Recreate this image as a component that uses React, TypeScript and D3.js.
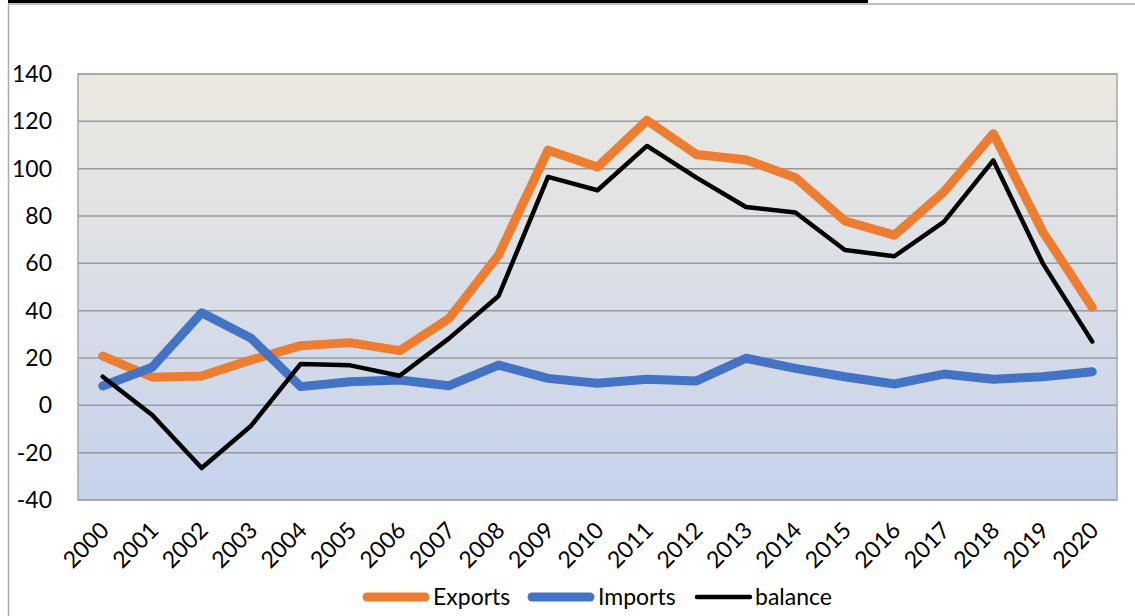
import React from "react";
import * as d3 from "d3";

const years = ["2000","2001","2002","2003","2004","2005","2006","2007","2008","2009","2010","2011","2012","2013","2014","2015","2016","2017","2018","2019","2020"];
const exportsV = [20.8, 11.9, 12.4, 19.2, 25.2, 26.5, 23.1, 36.7, 63.5, 107.8, 100.7, 120.4, 106, 103.8, 96.2, 77.9, 71.9, 90.2, 114.8, 73.3, 41.4];
const importsV = [8.2, 16.1, 39.1, 28.3, 7.9, 10, 10.7, 8.3, 17, 11.4, 9.3, 11, 10.3, 19.9, 15.6, 12.1, 9, 13.2, 11, 12.1, 14.2];
const balanceV = [12.1, -4.1, -26.5, -8.6, 17.5, 16.9, 12.5, 28.3, 46.2, 96.5, 90.9, 109.6, 96.2, 83.8, 81.5, 65.6, 63, 77.5, 103.5, 60, 26.9];
const yTicks = [-40, -20, 0, 20, 40, 60, 80, 100, 120, 140];

const series = [
  { name: "Exports", values: exportsV, color: "#ED7D31", width: 9 },
  { name: "Imports", values: importsV, color: "#4472C4", width: 9 },
  { name: "balance", values: balanceV, color: "#000000", width: 4.5 },
];

const W = 1135, H = 616;
const plot = { left: 78, top: 74, right: 1117, bottom: 500 };
const FONT = "Lato, 'Open Sans', sans-serif";

export default function App() {
  const x = d3.scaleBand<string>().domain(years).range([plot.left, plot.right]).padding(0);
  const y = d3.scaleLinear().domain([-40, 140]).range([plot.bottom, plot.top]);
  const cx = (i: number) => (x(years[i]) as number) + x.bandwidth() / 2;

  const legendItems = [
    { s: series[0], x0: 367, x1: 425, tx: 433 },
    { s: series[1], x0: 532, x1: 590, tx: 598 },
    { s: series[2], x0: 697, x1: 750, tx: 755 },
  ];

  return (
    <svg width={W} height={H} style={{ position: "absolute", left: 0, top: 0, background: "#fff" }} fontFamily={FONT}>
      <defs>
        <linearGradient id="bg" x1="0" y1="0" x2="0" y2="1">
          <stop offset="0" stopColor="#ECE9DF" />
          <stop offset="0.5" stopColor="#DADEE7" />
          <stop offset="1" stopColor="#C4D2EB" />
        </linearGradient>
      </defs>
      {/* frame */}
      <line x1={8} y1={4} x2={W} y2={4} stroke="#aaaaaa" strokeWidth={1.5} />
      <line x1={8.5} y1={4} x2={8.5} y2={H} stroke="#aaaaaa" strokeWidth={1.5} />
      <rect x={8} y={0} width={860} height={3} fill="#000" />

      <rect x={plot.left} y={plot.top} width={plot.right - plot.left} height={plot.bottom - plot.top} fill="url(#bg)" />
      {yTicks.map((t) => (
        <line key={t} x1={plot.left} x2={plot.right} y1={y(t)} y2={y(t)} stroke="#999999" strokeWidth={1.5} />
      ))}
      <rect x={plot.left} y={plot.top} width={plot.right - plot.left} height={plot.bottom - plot.top} fill="none" stroke="#a6a6a6" strokeWidth={1.5} />

      {yTicks.map((t) => (
        <text key={t} x={52} y={y(t)} dy="0.35em" textAnchor="end" fontSize={23} fill="#000">{t}</text>
      ))}
      {years.map((yr, i) => (
        <text key={yr} transform={`translate(${cx(i) + 2},${plot.bottom + 26}) rotate(-45)`} textAnchor="end" dy="0.35em" fontSize={23} fill="#000">{yr}</text>
      ))}

      {series.map((s) => {
        const line = d3.line<number>().x((_, i) => cx(i)).y((v) => y(v));
        return (
          <path key={s.name} d={line(s.values) || ""} fill="none" stroke={s.color} strokeWidth={s.width} strokeLinejoin="round" strokeLinecap="round" />
        );
      })}

      {legendItems.map((it) => (
        <g key={it.s.name}>
          <line x1={it.x0} x2={it.x1} y1={597} y2={597} stroke={it.s.color} strokeWidth={it.s.width} strokeLinecap="round" />
          <text x={it.tx} y={597} dy="0.35em" fontSize={23} fill="#000">{it.s.name}</text>
        </g>
      ))}
    </svg>
  );
}
